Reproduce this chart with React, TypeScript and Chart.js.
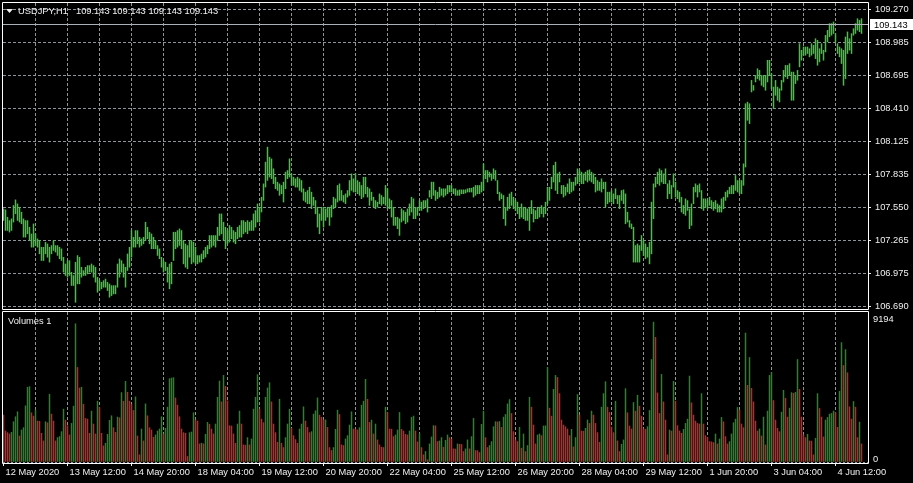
import React, { useEffect, useRef } from 'react';
import { Chart, registerables } from 'chart.js';

Chart.register(...registerables);

const symbolTitle = 'USDJPY,H1';
const lastPrice = 109.143;
const headerValues = [109.143, 109.143, 109.143, 109.143];

const highs = [
  107.539,107.530,107.466,107.437,107.452,107.568,107.617,107.582,107.553,107.510,
  107.452,107.437,107.437,107.379,107.321,107.408,107.321,107.278,107.263,107.205,
  107.205,107.249,107.234,107.205,107.220,107.263,107.220,107.220,107.205,107.191,
  107.118,107.060,107.089,107.089,106.988,106.959,107.075,107.133,107.118,107.031,
  107.002,107.031,107.046,107.046,107.060,107.046,107.031,106.944,106.915,106.901,
  106.915,106.929,106.901,106.886,106.872,106.872,106.872,107.060,107.104,107.089,
  107.060,107.031,107.147,107.205,107.350,107.292,107.350,107.350,107.292,107.278,
  107.292,107.423,107.379,107.336,107.321,107.292,107.263,107.220,107.191,107.118,
  107.089,107.075,107.031,107.060,107.075,107.336,107.336,107.350,107.365,107.350,
  107.263,107.234,107.220,107.263,107.263,107.249,107.205,107.133,107.133,107.147,
  107.176,107.205,107.220,107.307,107.307,107.307,107.307,107.379,107.495,107.495,
  107.423,107.379,107.350,107.394,107.379,107.350,107.336,107.379,107.394,107.437,
  107.437,107.423,107.437,107.423,107.437,107.495,107.524,107.582,107.553,107.640,
  107.756,107.945,108.075,107.988,107.973,107.887,107.814,107.771,107.756,107.742,
  107.771,107.858,107.872,107.973,107.843,107.814,107.800,107.814,107.800,107.785,
  107.713,107.684,107.698,107.727,107.684,107.640,107.611,107.553,107.495,107.553,
  107.553,107.539,107.553,107.553,107.568,107.640,107.626,107.742,107.756,107.698,
  107.655,107.669,107.698,107.785,107.843,107.800,107.843,107.785,107.771,107.742,
  107.814,107.814,107.727,107.713,107.684,107.640,107.611,107.597,107.669,107.655,
  107.640,107.742,107.713,107.626,107.611,107.553,107.466,107.466,107.452,107.539,
  107.524,107.510,107.539,107.582,107.640,107.626,107.553,107.553,107.611,107.597,
  107.611,107.611,107.626,107.698,107.771,107.771,107.698,107.684,107.727,107.713,
  107.713,107.713,107.742,107.742,107.742,107.713,107.713,107.698,107.704,107.704,
  107.704,107.704,107.713,107.718,107.718,107.727,107.742,107.742,107.742,107.771,
  107.930,107.872,107.872,107.858,107.843,107.887,107.872,107.785,107.684,107.669,
  107.655,107.553,107.640,107.669,107.684,107.640,107.611,107.597,107.553,107.582,
  107.553,107.553,107.539,107.553,107.611,107.539,107.524,107.553,107.553,107.568,
  107.553,107.597,107.727,107.727,107.814,107.916,107.945,107.843,107.858,107.742,
  107.742,107.727,107.756,107.800,107.771,107.771,107.814,107.887,107.872,107.858,
  107.843,107.858,107.872,107.878,107.858,107.843,107.814,107.785,107.771,107.800,
  107.771,107.771,107.684,107.684,107.698,107.669,107.713,107.655,107.655,107.698,
  107.704,107.669,107.510,107.437,107.408,107.379,107.220,107.234,107.220,107.307,
  107.263,107.234,107.205,107.249,107.597,107.756,107.814,107.858,107.887,107.872,
  107.843,107.887,107.756,107.785,107.742,107.843,107.771,107.698,107.684,107.640,
  107.568,107.626,107.611,107.539,107.582,107.727,107.756,107.742,107.756,107.698,
  107.626,107.626,107.611,107.640,107.611,107.597,107.611,107.582,107.568,107.626,
  107.640,107.684,107.698,107.727,107.742,107.742,107.829,107.785,107.785,107.785,
  107.930,108.452,108.466,108.452,108.655,108.611,108.698,108.756,108.742,108.698,
  108.698,108.698,108.829,108.829,108.713,108.597,108.655,108.597,108.582,108.655,
  108.742,108.785,108.785,108.800,108.727,108.727,108.698,108.742,108.974,108.916,
  108.945,108.945,108.945,108.930,108.974,108.959,109.017,109.003,108.930,108.974,
  108.916,109.046,109.090,109.148,109.148,109.162,109.061,108.974,108.945,108.930,
  108.916,109.032,109.076,109.017,109.061,109.104,109.148,109.191,109.177,109.191,
];

const lows = [
  107.437,107.350,107.350,107.336,107.350,107.423,107.495,107.437,107.423,107.408,
  107.292,107.292,107.321,107.263,107.205,107.205,107.220,107.205,107.147,107.089,
  107.089,107.147,107.118,107.075,107.147,107.176,107.162,107.133,107.104,107.089,
  106.988,106.959,106.944,106.959,106.872,106.872,106.726,106.886,106.886,106.944,
  106.959,106.959,106.973,106.988,106.988,106.944,106.901,106.813,106.828,106.843,
  106.857,106.857,106.828,106.770,106.784,106.799,106.799,106.857,106.944,106.988,
  106.944,106.857,107.002,107.031,107.118,107.205,107.205,107.234,107.205,107.220,
  107.234,107.263,107.278,107.234,107.191,107.191,107.191,107.133,107.104,107.031,
  106.988,107.002,106.901,106.843,106.886,107.089,107.191,107.205,107.220,107.191,
  107.060,107.031,107.017,107.118,107.060,107.075,107.060,107.060,107.075,107.075,
  107.104,107.118,107.147,107.191,107.205,107.220,107.205,107.263,107.307,107.321,
  107.263,107.191,107.234,107.249,107.278,107.249,107.234,107.278,107.292,107.292,
  107.321,107.336,107.321,107.350,107.350,107.350,107.379,107.423,107.423,107.510,
  107.611,107.727,107.785,107.814,107.800,107.756,107.713,107.698,107.655,107.669,
  107.597,107.713,107.800,107.814,107.742,107.742,107.727,107.727,107.698,107.684,
  107.611,107.597,107.582,107.582,107.539,107.568,107.495,107.379,107.321,107.437,
  107.379,107.437,107.466,107.394,107.466,107.539,107.553,107.597,107.611,107.611,
  107.597,107.582,107.640,107.655,107.698,107.684,107.684,107.669,107.655,107.626,
  107.640,107.669,107.640,107.568,107.611,107.553,107.539,107.553,107.582,107.568,
  107.582,107.568,107.539,107.539,107.466,107.394,107.394,107.365,107.307,107.423,
  107.437,107.408,107.423,107.481,107.510,107.452,107.452,107.481,107.524,107.524,
  107.539,107.553,107.510,107.640,107.626,107.655,107.611,107.626,107.640,107.655,
  107.640,107.655,107.669,107.684,107.684,107.669,107.655,107.655,107.655,107.669,
  107.669,107.675,107.684,107.684,107.684,107.640,107.655,107.669,107.669,107.684,
  107.698,107.800,107.771,107.814,107.785,107.800,107.785,107.669,107.611,107.626,
  107.452,107.394,107.524,107.539,107.568,107.539,107.524,107.495,107.452,107.466,
  107.452,107.437,107.437,107.350,107.495,107.423,107.452,107.452,107.466,107.495,
  107.466,107.495,107.582,107.611,107.713,107.771,107.698,107.669,107.771,107.669,
  107.640,107.655,107.684,107.669,107.684,107.698,107.742,107.756,107.771,107.756,
  107.756,107.785,107.771,107.785,107.771,107.756,107.684,107.698,107.698,107.684,
  107.713,107.553,107.582,107.597,107.597,107.582,107.626,107.582,107.539,107.611,
  107.582,107.408,107.423,107.379,107.365,107.075,107.075,107.075,107.075,107.176,
  107.133,107.104,107.118,107.060,107.147,107.452,107.727,107.756,107.742,107.771,
  107.756,107.756,107.626,107.669,107.626,107.727,107.640,107.626,107.597,107.510,
  107.495,107.481,107.524,107.365,107.394,107.582,107.684,107.640,107.684,107.539,
  107.524,107.553,107.539,107.568,107.539,107.524,107.539,107.510,107.510,107.510,
  107.539,107.611,107.640,107.669,107.669,107.669,107.698,107.684,107.669,107.669,
  107.742,107.901,108.307,108.278,108.553,108.568,108.640,108.669,108.655,108.611,
  108.597,108.568,108.640,108.698,108.582,108.408,108.524,108.481,108.466,108.568,
  108.640,108.684,108.669,108.698,108.481,108.481,108.626,108.655,108.771,108.829,
  108.872,108.872,108.887,108.858,108.872,108.887,108.843,108.785,108.814,108.887,
  108.829,108.901,108.988,109.032,109.046,109.061,108.988,108.887,108.858,108.800,
  108.611,108.669,108.887,108.916,108.887,109.046,109.061,109.090,109.076,109.061,
];

const volumes = [
  3086,2043,1934,1847,1956,2651,2977,3303,1717,2108,
  2260,3694,4911,4954,3238,3020,3412,2695,2680,1891,
  1391,2651,2586,4455,3151,2695,1391,1608,1673,1999,
  3477,2760,2390,1782,2542,3672,9083,6215,4868,4911,
  3803,2868,2825,1891,3346,2499,1847,3998,3585,1891,
  1065,1239,1825,2738,3042,2260,1956,2955,2912,4563,
  3998,5302,4585,3998,3781,3390,4281,1717,478,2173,
  1391,3824,3042,2260,2108,1630,1782,2043,2173,2977,
  1847,2216,3607,5476,5519,5541,4216,3738,2977,2173,
  1934,1891,369,1934,1977,3238,2760,2695,1195,1239,
  1195,1825,2608,2477,2173,1847,2499,4259,5324,3955,
  5693,4976,4020,2390,2370,1847,1239,2499,3346,2499,
  1130,1110,1608,1130,1521,3477,4259,5737,3477,2825,
  2586,4259,4868,5215,3955,2499,1934,1304,4129,1239,
  956,1608,2499,3477,2216,1738,1478,1239,2173,2499,
  3629,2695,2282,1934,1999,3151,3368,4216,3086,2934,
  2760,2770,2282,956,761,956,2151,3412,3129,1130,
  1087,1521,1738,2434,3303,2173,2160,2108,2260,3738,
  3998,5433,4129,2608,2760,1847,2499,1456,1130,978,
  956,3607,3260,2173,2160,1673,1782,2108,3260,2151,
  2043,1825,1782,2043,2934,3020,2043,1326,1869,956,
  478,695,152,1195,1652,2390,2380,1347,1391,1608,
  978,1434,1782,1608,1499,869,860,1195,1173,1160,
  695,869,1456,869,1673,2868,761,750,630,2477,
  3346,1608,956,1087,1347,2325,2651,2640,2660,2282,
  2955,3129,3824,4107,3194,1999,1456,1347,2282,913,
  1847,695,1087,4259,3607,2434,1195,1782,1847,1738,
  2369,2380,6215,3542,3020,4781,5693,5563,4498,2760,
  2434,2325,2173,1738,2151,1000,1608,4433,3086,2043,
  2030,2216,2760,2542,3346,3086,2542,1934,1304,3607,
  4498,5280,3607,3260,2303,1934,3998,1391,695,1173,
  1456,4824,3238,2369,2173,3911,3346,4389,3672,3020,
  2173,2160,2325,3390,6736,9194,8192,4542,3194,5758,
  3955,2760,478,2108,2043,5302,3998,2390,2043,1891,
  2151,2542,2825,5650,3890,3086,2695,2542,2499,4498,
  2499,1738,1608,1347,1330,1282,1847,1195,1521,2934,
  2651,1673,1195,1347,1847,2586,2825,3585,3412,2499,
  2260,8475,5041,6867,4846,3955,2695,2043,2173,1717,
  2955,1130,3346,5693,5889,4042,2760,2216,1999,3281,
  4715,4194,2955,3542,4563,4520,4580,6736,4781,2955,
  1782,1608,1825,1391,1380,478,1565,4498,3520,2955,
  1652,2760,2934,3151,3194,3346,3260,2282,4650,7845,
  6345,7388,5867,3629,2825,3977,3607,1608,2629,1195,
];

const priceTicks = [109.270, 108.985, 108.695, 108.410, 108.125, 107.835, 107.550, 107.265, 106.975, 106.690];
const timeLabels = [
  '12 May 2020', '13 May 12:00', '14 May 20:00', '18 May 04:00', '19 May 12:00',
  '20 May 20:00', '22 May 04:00', '25 May 12:00', '26 May 20:00', '28 May 04:00',
  '29 May 12:00', '1 Jun 20:00', '3 Jun 04:00', '4 Jun 12:00',
];
const volumeTicks = [0, 9194];
const volumeTitle = 'Volumes 1';

// styling
const FONT_FAMILY = '"Liberation Sans", Arial, sans-serif';
const FONT_SIZE = 9.3;
const FONT = { family: FONT_FAMILY, size: FONT_SIZE };
const TEXT = '#f0f0f0';
const GRID = '#8e949b';
const BORDER = '#ffffff';
const BAR = '#32cd32';
const VOL_UP = '#1f8b1f';
const VOL_DOWN = '#cc2222';
const PRICE_LINE = '#a9b0b8';
const BAR_INFLATE = 0.25;

const X_MIN = -0.25;
const X_MAX = 432.25;
const P_MIN = 106.6683;
const P_MAX = 109.3265;
const V_MAX = 9851;
const BARS_PER_LABEL = 32;
const BARS_PER_GRID = 16;

function gridTicks() {
  const out: { value: number }[] = [];
  for (let k = 0; k < timeLabels.length * 2 - 1; k++) out.push({ value: k * BARS_PER_GRID });
  return out;
}

function xLabel(v: number) {
  if (v % BARS_PER_LABEL !== 0) return '';
  return timeLabels[v / BARS_PER_LABEL] ?? '';
}

function zeroPadding(s: any) {
  s.paddingTop = 0;
  s.paddingBottom = 0;
  s.paddingLeft = 0;
  s.paddingRight = 0;
}

function drawBorder(ctx: CanvasRenderingContext2D, x1: number, y1: number, x2: number, y2: number) {
  ctx.save();
  ctx.strokeStyle = BORDER;
  ctx.lineWidth = 1;
  ctx.beginPath();
  ctx.moveTo(x1 + 0.5, y1 + 0.5);
  ctx.lineTo(x2 + 0.5, y1 + 0.5);
  ctx.lineTo(x2 + 0.5, y2 + 0.5);
  ctx.lineTo(x1 + 0.5, y2 + 0.5);
  ctx.closePath();
  ctx.stroke();
  ctx.restore();
}

const mainPlugin = {
  id: 'mt4main',
  afterDraw(chart: any) {
    const ctx: CanvasRenderingContext2D = chart.ctx;
    const { left, right } = chart.chartArea;
    const ys = chart.scales.y;
    const py = Math.round(ys.getPixelForValue(lastPrice)) + 0.5;
    ctx.save();
    ctx.strokeStyle = PRICE_LINE;
    ctx.lineWidth = 1;
    ctx.beginPath();
    ctx.moveTo(left, py);
    ctx.lineTo(right, py);
    ctx.stroke();
    // price box
    ctx.fillStyle = '#ffffff';
    ctx.fillRect(870, py - 5.5, 43, 11);
    ctx.fillStyle = '#000000';
    ctx.font = `${FONT_SIZE}px ${FONT_FAMILY}`;
    ctx.textBaseline = 'middle';
    ctx.textAlign = 'left';
    ctx.fillText(lastPrice.toFixed(3), 874, py + 0.5);
    // header
    ctx.fillStyle = TEXT;
    ctx.beginPath();
    ctx.moveTo(6, 9);
    ctx.lineTo(13, 9);
    ctx.lineTo(9.5, 13);
    ctx.closePath();
    ctx.fill();
    ctx.textBaseline = 'alphabetic';
    ctx.fillText(symbolTitle, 18, 14);
    ctx.fillText(headerValues.map((v) => v.toFixed(3)).join(' '), 76, 14);
    ctx.restore();
    drawBorder(ctx, 2, 2, 868, 309);
  },
};

const volumePlugin = {
  id: 'mt4vol',
  afterDraw(chart: any) {
    const ctx: CanvasRenderingContext2D = chart.ctx;
    ctx.save();
    ctx.fillStyle = TEXT;
    ctx.font = `${FONT_SIZE}px ${FONT_FAMILY}`;
    ctx.textBaseline = 'alphabetic';
    ctx.textAlign = 'left';
    ctx.fillText(volumeTitle, 8, 14);
    ctx.restore();
    drawBorder(ctx, 2, 1, 868, 153);
  },
};

function priceConfig(): any {
  return {
    type: 'bar',
    data: {
      datasets: [
        {
          data: highs.map((h, i) => ({ x: i, y: [lows[i], h] })),
          backgroundColor: BAR,
          borderWidth: 0,
          barThickness: 1,
          inflateAmount: BAR_INFLATE,
        },
      ],
    },
    options: {
      responsive: false,
      devicePixelRatio: 1,
      animation: false,
      events: [],
      layout: { padding: { left: 3, top: 3, right: 0, bottom: 1 } },
      plugins: { legend: { display: false }, tooltip: { enabled: false } },
      scales: {
        x: {
          type: 'linear',
          offset: false,
          min: X_MIN,
          max: X_MAX,
          afterBuildTicks: (s: any) => { s.ticks = gridTicks(); },
          afterFit: (s: any) => { s.height = 0; zeroPadding(s); },
          ticks: { display: false },
          grid: {
            offset: false,
            drawTicks: false,
            lineWidth: 1,
            color: (c: any) => (c.tick && c.tick.value === 0 ? 'transparent' : GRID),
          },
          border: { display: false, dash: [3, 2] },
        },
        y: {
          position: 'right',
          min: P_MIN,
          max: P_MAX,
          afterBuildTicks: (s: any) => { s.ticks = priceTicks.map((v) => ({ value: v })); },
          afterFit: (s: any) => { s.width = 45; zeroPadding(s); },
          ticks: {
            color: TEXT,
            font: FONT,
            padding: 4,
            autoSkip: false,
            callback: (v: any) => Number(v).toFixed(3),
          },
          grid: { color: GRID, lineWidth: 1, drawTicks: true, tickLength: 3, tickColor: TEXT },
          border: { display: false, dash: [3, 2] },
        },
      },
    },
    plugins: [mainPlugin],
  };
}

function volumeConfig(): any {
  const colors = volumes.map((v, i) => (i > 0 && v > volumes[i - 1] ? VOL_UP : VOL_DOWN));
  return {
    type: 'bar',
    data: {
      datasets: [
        {
          data: volumes.map((v, i) => ({ x: i, y: v })),
          backgroundColor: colors,
          borderWidth: 0,
          barThickness: 1,
          inflateAmount: BAR_INFLATE,
        },
      ],
    },
    options: {
      responsive: false,
      devicePixelRatio: 1,
      animation: false,
      events: [],
      layout: { padding: { left: 3, top: 2, right: 0, bottom: 0 } },
      plugins: { legend: { display: false }, tooltip: { enabled: false } },
      scales: {
        x: {
          type: 'linear',
          offset: false,
          min: X_MIN,
          max: X_MAX,
          afterBuildTicks: (s: any) => { s.ticks = gridTicks(); },
          afterFit: (s: any) => { s.height = 21; zeroPadding(s); },
          ticks: {
            color: TEXT,
            font: FONT,
            autoSkip: false,
            maxRotation: 0,
            minRotation: 0,
            align: 'start',
            labelOffset: 2,
            padding: 1,
            callback: (v: any) => xLabel(Number(v)),
          },
          grid: {
            offset: false,
            drawTicks: true,
            tickLength: 4,
            lineWidth: 1,
            color: (c: any) => (c.tick && c.tick.value === 0 ? 'transparent' : GRID),
            tickColor: (c: any) => (c.tick && c.tick.value % BARS_PER_LABEL === 0 ? TEXT : 'transparent'),
          },
          border: { display: false, dash: [3, 2] },
        },
        y: {
          position: 'right',
          min: 0,
          max: V_MAX,
          afterBuildTicks: (s: any) => { s.ticks = volumeTicks.map((v) => ({ value: v })); },
          afterFit: (s: any) => { s.width = 45; zeroPadding(s); },
          ticks: {
            color: TEXT,
            font: FONT,
            padding: 5,
            autoSkip: false,
            labelOffset: -3,
            callback: (v: any) => String(v),
          },
          grid: {
            drawTicks: false,
            lineWidth: 1,
            color: (c: any) => (c.tick && c.tick.value === 0 ? GRID : 'transparent'),
          },
          border: { display: false, dash: [2, 2] },
        },
      },
    },
    plugins: [volumePlugin],
  };
}

export default function App() {
  const priceRef = useRef<HTMLCanvasElement>(null);
  const volRef = useRef<HTMLCanvasElement>(null);

  useEffect(() => {
    const c1 = new Chart(priceRef.current as HTMLCanvasElement, priceConfig());
    const c2 = new Chart(volRef.current as HTMLCanvasElement, volumeConfig());
    return () => {
      c1.destroy();
      c2.destroy();
    };
  }, []);

  return (
    <div
      style={{
        position: 'fixed',
        left: 0,
        top: 0,
        width: 913,
        height: 483,
        background: '#000000',
        overflow: 'hidden',
      }}
    >
      <canvas
        ref={priceRef}
        width={913}
        height={310}
        style={{ position: 'absolute', left: 0, top: 0, width: 913, height: 310 }}
      />
      <canvas
        ref={volRef}
        width={913}
        height={173}
        style={{ position: 'absolute', left: 0, top: 310, width: 913, height: 173 }}
      />
    </div>
  );
}
